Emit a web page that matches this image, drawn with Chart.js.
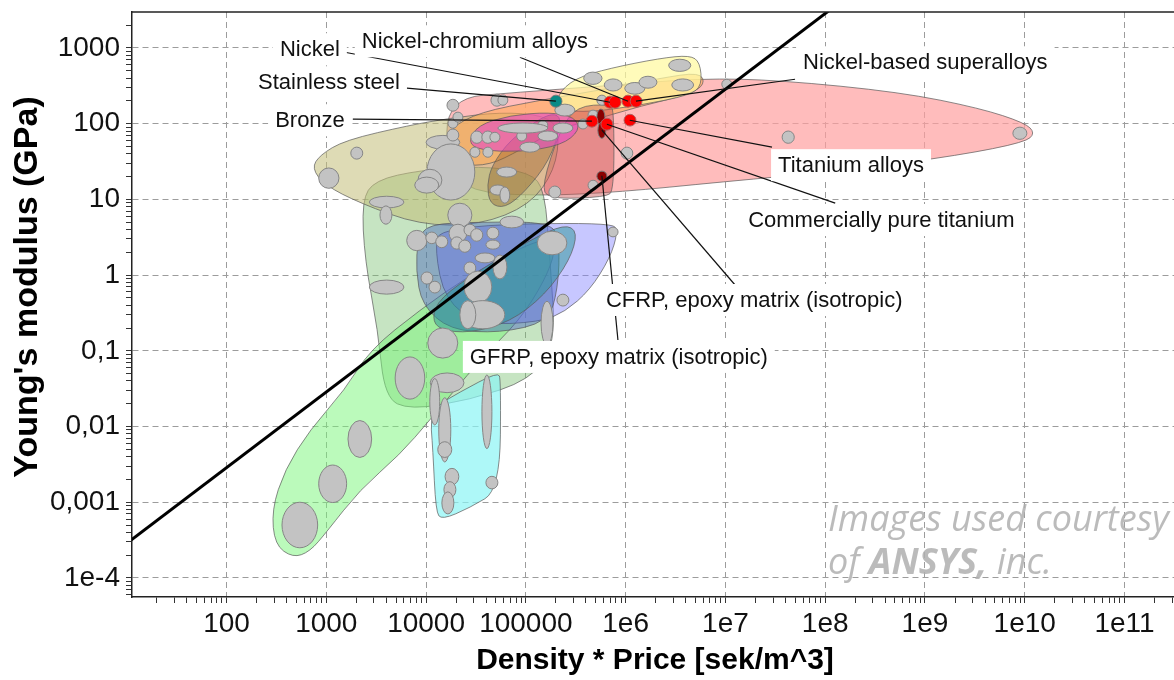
<!DOCTYPE html>
<html>
<head>
<meta charset="utf-8">
<script src="https://cdn.jsdelivr.net/npm/chart.js@4.4.1/dist/chart.umd.min.js"></script>
<style>
  html, body { margin: 0; padding: 0; background: #fff; }
</style>
</head>
<body>
<canvas id="ashby" width="1174" height="680"></canvas>
<script>
// axis ranges: density*price [sek/m^3] vs Young's modulus [GPa]
const xRange = [11.3, 3.13e11];
const yRange = [5.6e-5, 2985];

const xTickValues = [1e2, 1e3, 1e4, 1e5, 1e6, 1e7, 1e8, 1e9, 1e10, 1e11];
const xTickLabels = ["100", "1000", "10000", "100000", "1e6", "1e7", "1e8", "1e9", "1e10", "1e11"];
const yTickValues = [1e-4, 1e-3, 1e-2, 1e-1, 1, 10, 100, 1000];
const yTickLabels = ["1e-4", "0,001", "0,01", "0,1", "1", "10", "100", "1000"];

// material family envelopes, [density*price, modulus]
const envPink = [[16170, 217], [87100, 261], [552100, 312], [5.56e6, 398], [3.52e7, 375], [5.62e8, 261], [3.57e9, 160], [1.01e10, 102], [1.27e10, 75], [1.01e10, 57], [2.25e9, 38.4], [1.77e8, 24.3], [8.81e6, 16.9], [877000, 12.5], [138400, 11.1], [27480, 12.5], [16170, 28.3]];
const envSage = [[2270, 9.8], [3069, 17.9], [8670, 24.3], [34590, 27.5], [109900, 22.9], [155200, 13.2], [174200, 1.58], [200000, 0.119], [109900, 0.0412], [27480, 0.0224], [6887, 0.0166], [3864, 0.0239], [3289, 0.188], [2432, 1.58]];
const envBeige = [[716, 25.8], [861, 38.4], [1535, 60.5], [6887, 95.5], [17330, 118], [54950, 142], [155200, 129], [219300, 82], [195400, 24.3], [109900, 8.41], [34590, 4.58], [8670, 4.58], [2168, 8.93], [966, 15.4]];
const envGreen = [[462, 1.85e-4], [305, 2.74e-4], [284, 7.94e-4], [384, 2.69e-3], [684, 0.00904], [1535, 0.0304], [2735, 0.1026], [8670, 0.347], [27480, 1.0], [87100, 2.28], [166300, 3.09], [200000, 2.14], [155200, 0.861], [87100, 0.255], [34590, 0.0757], [10920, 0.0122], [5458, 0.00424], [2168, 0.00146], [1012, 4.08e-4], [684, 2.22e-4]];
const envCyan = [[10920, 0.0166], [21830, 0.0286], [52480, 0.0525], [56230, 0.0412], [54950, 0.00146], [27480, 8.45e-4], [14390, 5.86e-4], [12530, 7.48e-4], [11700, 0.00491]];
const envLavender = [[13740, 4.44], [729500, 5.02], [837500, 3.7], [696600, 1.68], [438500, 0.635], [246000, 0.326], [138400, 0.24], [34590, 0.219], [15420, 0.469], [12250, 2.14]];
const envBlue = [[8279, 2.9], [10420, 4.72], [34590, 5.02], [174200, 5.02], [219300, 2.9], [209400, 0.635], [166300, 0.24], [54950, 0.172], [17330, 0.188], [9078, 0.404], [7907, 1.17]];
const envTeal = [[11430, 0.271], [13740, 0.498], [34590, 1.17], [109900, 2.9], [246000, 4.72], [331900, 3.7], [276100, 1.58], [155200, 0.546], [69180, 0.24], [27480, 0.172], [13740, 0.188]];
const envYellow = [[204600, 238], [309700, 398], [696600, 540], [2.208e6, 731], [4.416e6, 801], [5.56e6, 647], [5.82e6, 322], [4.416e6, 238], [1.393e6, 175], [438500, 142], [219300, 151]];
const envOrange = [[15780, 44.7], [17330, 87.3], [34590, 142], [138400, 204], [552100, 277], [2.208e6, 398], [5.56e6, 478], [6.24e6, 333], [4.416e6, 245], [1.393e6, 170], [552100, 118], [219300, 87.3], [87100, 44.7], [43650, 28.3], [21830, 28.3]];
const envSalmon = [[324300, 170], [696600, 181], [763800, 142], [763800, 13.2], [634000, 10.7], [166300, 10.1], [144900, 15.4], [219300, 82]];
const envBrown = [[40740, 15.4], [45710, 28.3], [69180, 60.5], [138400, 118], [200000, 138], [229600, 105], [174200, 33], [97700, 12.5], [61660, 7.67], [43650, 8.67]];
const envMagenta = [[26240, 57], [33040, 95.5], [69180, 129], [174200, 142], [309700, 122], [348300, 82], [229600, 52], [87100, 42], [34590, 44.7]];

// individual materials: [x low, x high, y low, y high]
const materials = [
  [360, 820, 2.5e-4, 1.0e-3], [840, 1600, 9.9e-4, 3.1e-3], [1650, 2850, 3.9e-3, 1.2e-2],
  [4900, 9700, 0.023, 0.083], [11000, 24000, 0.028, 0.051], [10900, 13700, 0.0105, 0.043],
  [13400, 17700, 0.0034, 0.024], [13100, 18100, 0.0039, 0.0063], [15500, 21300, 0.0017, 0.0028],
  [15100, 19900, 0.00115, 0.00187], [14400, 19000, 0.0007, 0.00137], [36300, 45700, 0.0051, 0.048],
  [39800, 52500, 0.0015, 0.0022], [10400, 20800, 0.08, 0.2], [2700, 6000, 7.7, 11],
  [3450, 4550, 4.7, 8.2], [16500, 28800, 4.3, 8.9], [55000, 95000, 4.2, 6.0],
  [6400, 10200, 2.1, 3.9], [9950, 13100, 2.6, 3.7], [12500, 16500, 2.3, 3.3],
  [17000, 25600, 2.7, 4.7], [24000, 31500, 3.3, 4.7], [28000, 37000, 2.8, 4.1],
  [17700, 23400, 2.2, 3.2], [21300, 28100, 2.0, 2.9], [40700, 53700, 3.0, 4.3],
  [39800, 55000, 2.2, 2.9], [130000, 258000, 1.85, 3.8], [31000, 49000, 1.45, 1.96],
  [46800, 64600, 0.89, 1.84], [24000, 31500, 1.03, 1.49], [24000, 45600, 0.43, 1.13],
  [2700, 6000, 0.56, 0.86], [8900, 11700, 0.76, 1.1], [10700, 14000, 0.58, 0.83],
  [22300, 61500, 0.195, 0.46], [21800, 31500, 0.195, 0.46], [142000, 187000, 0.12, 0.45],
  [205000, 270000, 0.39, 0.56], [665000, 840000, 3.2, 4.3], [840, 1340, 14, 26],
  [1760, 2320, 34, 49], [10000, 21800, 46, 70], [10200, 30800, 9.8, 54],
  [8300, 14400, 12.9, 25], [7700, 13400, 12.1, 19.7], [16200, 21300, 59, 85],
  [16600, 20800, 87, 118], [16200, 21300, 146, 210], [28100, 37100, 55, 80],
  [36200, 47800, 55, 80], [27500, 34600, 36, 49], [37100, 46700, 36, 49],
  [51000, 81000, 19.7, 26.7], [43600, 63000, 11.4, 15.5], [55000, 69000, 8.9, 14.6],
  [2.7e6, 4.5e6, 490, 710], [380000, 580000, 330, 480], [610000, 920000, 270, 390],
  [980000, 1.56e6, 245, 350], [1.36e6, 2.06e6, 294, 423], [2.9e6, 4.8e6, 270, 390],
  [44700, 58900, 170, 245], [52500, 66000, 175, 240], [18600, 23400, 105, 142],
  [195000, 310000, 126, 181], [420000, 530000, 111, 151], [515000, 650000, 175, 238],
  [333000, 419000, 85, 115], [900000, 1.18e6, 34, 49], [170000, 224000, 10.4, 15],
  [420000, 530000, 13.2, 17.9], [43600, 55000, 57, 77], [81000, 102000, 59, 80],
  [132000, 166000, 82, 111], [132000, 209000, 59, 80], [52500, 166000, 75, 102],
  [87000, 138000, 42, 57], [187000, 296000, 75, 102], [3.7e7, 4.9e7, 55, 80],
  [7.6e9, 1.05e10, 62, 90], [9.2e6, 1.16e7, 285, 386],
];

// highlighted materials
const redMaterials = [
  [607000, 800000, 160, 231], [680000, 900000, 160, 231], [920000, 1.21e6, 165, 238],
  [1.11e6, 1.46e6, 165, 238], [400000, 527000, 90, 129], [565000, 745000, 82, 118],
  [964000, 1.27e6, 93, 133],
];
const darkRedMaterials = [[515000, 620000, 95, 156], [527000, 634000, 64, 105], [515000, 650000, 17.4, 23.6]];
const tealMaterials = [[174000, 230000, 165, 238]];

// selection line E / (rho*C) = const
const guideLine = [{ x: 1, y: 2.85e-5 }, { x: 1e9, y: 28500 }];

// labels with leader lines: label anchor, line start, line end
const notes = [
  { text: "Nickel", at: [1368, 961], align: "right", from: [1535, 877], to: [696600, 192] },
  { text: "Nickel-chromium alloys", at: [30830, 1225], align: "center", from: [87100, 753], to: [1.057e6, 198] },
  { text: "Stainless steel", at: [5458, 352], align: "right", from: [6412, 294], to: [200000, 198] },
  { text: "Bronze", at: [1535, 111], align: "right", from: [1846, 115], to: [459000, 108] },
  { text: "Nickel-based superalloys", at: [6.0e7, 647], align: "left", from: [4.99e7, 386], to: [1.27e6, 198] },
  { text: "Titanium alloys", at: [3.37e7, 28.3], align: "left", from: [2.93e7, 49], to: [1.1e6, 111] },
  { text: "Commercially pure titanium", at: [1.69e7, 5.34], align: "left", from: [1.26e8, 8.93], to: [649000, 98.4] },
  { text: "CFRP, epoxy matrix (isotropic)", at: [634000, 0.469], align: "left", from: [1.25e7, 0.74], to: [578000, 82] },
  { text: "GFRP, epoxy matrix (isotropic)", at: [27480, 0.083], align: "left", from: [837500, 0.139], to: [578000, 20.5] },
];

const envelopes = [
  { pts: envPink, color: "rgba(255,160,160,0.7)" },
  { pts: envSage, color: "rgba(120,190,110,0.42)" },
  { pts: envBeige, color: "rgba(195,190,120,0.55)" },
  { pts: envGreen, color: "rgba(120,245,120,0.5)" },
  { pts: envCyan, color: "rgba(140,245,245,0.7)" },
  { pts: envLavender, color: "rgba(130,130,255,0.45)" },
  { pts: envBlue, color: "rgba(60,90,190,0.42)" },
  { pts: envTeal, color: "rgba(40,150,150,0.5)" },
  { pts: envOrange, color: "rgba(255,170,80,0.55)" },
  { pts: envYellow, color: "rgba(255,250,160,0.72)" },
  { pts: envSalmon, color: "rgba(200,80,80,0.45)" },
  { pts: envBrown, color: "rgba(150,90,30,0.4)" },
  { pts: envMagenta, color: "rgba(230,70,200,0.6)" },
];

const FONT = "'Liberation Sans', Arial, sans-serif";

function logTicks(scale) {
  const ticks = [];
  const lo = Math.floor(Math.log10(scale.min));
  const hi = Math.ceil(Math.log10(scale.max));
  for (let e = lo; e <= hi; e++) {
    for (let m = 1; m <= 9; m++) {
      const v = m * Math.pow(10, e);
      if (v >= scale.min && v <= scale.max) ticks.push({ value: v, major: m === 1 });
    }
  }
  scale.ticks = ticks;
}

function tickText(values, labels) {
  return function (value, index, ticks) {
    if (!ticks[index].major) return "";
    const i = values.findIndex(v => Math.abs(v - value) / v < 1e-6);
    return i < 0 ? "" : labels[i];
  };
}

function smoothShape(ctx, pts) {
  const n = pts.length;
  const mid = (a, b) => [(a[0] + b[0]) / 2, (a[1] + b[1]) / 2];
  const m0 = mid(pts[n - 1], pts[0]);
  ctx.beginPath();
  ctx.moveTo(m0[0], m0[1]);
  for (let i = 0; i < n; i++) {
    const p = pts[i];
    const m = mid(p, pts[(i + 1) % n]);
    ctx.quadraticCurveTo(p[0], p[1], m[0], m[1]);
  }
  ctx.closePath();
}

function drawEllipse(ctx, sx, sy, b, fill, stroke) {
  const x1 = sx.getPixelForValue(b[0]), x2 = sx.getPixelForValue(b[1]);
  const y1 = sy.getPixelForValue(b[2]), y2 = sy.getPixelForValue(b[3]);
  ctx.beginPath();
  ctx.ellipse((x1 + x2) / 2, (y1 + y2) / 2, Math.abs(x2 - x1) / 2, Math.abs(y2 - y1) / 2, 0, 0, Math.PI * 2);
  ctx.fillStyle = fill;
  ctx.fill();
  ctx.strokeStyle = stroke;
  ctx.stroke();
}

const ashbyPlugin = {
  id: "ashby",
  beforeDatasetsDraw(chart) {
    const { ctx, chartArea: ca, scales: { x, y } } = chart;
    ctx.save();
    ctx.beginPath();
    ctx.rect(ca.left, ca.top, ca.right - ca.left, ca.bottom - ca.top);
    ctx.clip();
    ctx.lineWidth = 1;
    envelopes.forEach(env => {
      const pts = env.pts.map(p => [x.getPixelForValue(p[0]), y.getPixelForValue(p[1])]);
      smoothShape(ctx, pts);
      ctx.fillStyle = env.color;
      ctx.fill();
      ctx.strokeStyle = "rgba(90,90,90,0.7)";
      ctx.stroke();
    });
    materials.forEach(b => drawEllipse(ctx, x, y, b, "#c3c3c3", "#858585"));
    tealMaterials.forEach(b => drawEllipse(ctx, x, y, b, "#0a8a86", "#777"));
    darkRedMaterials.forEach(b => drawEllipse(ctx, x, y, b, "#8b0000", "#777"));
    redMaterials.forEach(b => drawEllipse(ctx, x, y, b, "#ff0000", "#b06060"));
    ctx.restore();
  },
  afterDatasetsDraw(chart) {
    const { ctx, scales: { x, y } } = chart;
    ctx.save();
    ctx.strokeStyle = "#111";
    ctx.lineWidth = 1.2;
    notes.forEach(n => {
      ctx.beginPath();
      ctx.moveTo(x.getPixelForValue(n.from[0]), y.getPixelForValue(n.from[1]));
      ctx.lineTo(x.getPixelForValue(n.to[0]), y.getPixelForValue(n.to[1]));
      ctx.stroke();
    });
    ctx.font = "22px " + FONT;
    ctx.textBaseline = "middle";
    notes.forEach(n => {
      const tx = x.getPixelForValue(n.at[0]);
      const ty = y.getPixelForValue(n.at[1]);
      const w = ctx.measureText(n.text).width;
      let left = tx;
      if (n.align === "right") left = tx - w;
      if (n.align === "center") left = tx - w / 2;
      ctx.fillStyle = "#fff";
      ctx.fillRect(left - 7, ty - 16, w + 14, 32);
      ctx.fillStyle = "#111";
      ctx.textAlign = "left";
      ctx.fillText(n.text, left, ty + 1);
    });
    ctx.restore();
  },
  afterDraw(chart) {
    const { ctx, chartArea: ca } = chart;
    ctx.save();
    // frame top edge
    ctx.strokeStyle = "#222";
    ctx.lineWidth = 1.5;
    ctx.beginPath();
    ctx.moveTo(ca.left, ca.top);
    ctx.lineTo(ca.right, ca.top);
    ctx.stroke();

    // axis titles
    ctx.fillStyle = "#000";
    ctx.font = "bold 30px " + FONT;
    ctx.textAlign = "center";
    ctx.textBaseline = "middle";
    ctx.fillText("Density * Price [sek/m^3]", (ca.left + ca.right) / 2 + 2, 661);
    ctx.save();
    ctx.translate(28, 287);
    ctx.rotate(-Math.PI / 2);
    ctx.font = "bold 34px " + FONT;
    ctx.fillText("Young's modulus (GPa)", 0, 0);
    ctx.restore();

    // courtesy mark
    ctx.fillStyle = "rgba(175,175,175,0.85)";
    ctx.textAlign = "left";
    ctx.textBaseline = "alphabetic";
    const wx = ca.right - 346;
    ctx.font = "italic 36px 'Open Sans', sans-serif";
    ctx.fillText("Images used courtesy", wx, ca.bottom - 66);
    let cx = wx;
    ctx.fillText("of ", cx, ca.bottom - 23);
    cx += ctx.measureText("of ").width;
    ctx.font = "italic bold 36px 'Open Sans', sans-serif";
    ctx.fillText("ANSYS,", cx, ca.bottom - 23);
    cx += ctx.measureText("ANSYS,").width;
    ctx.font = "italic 36px 'Open Sans', sans-serif";
    ctx.fillText(" inc.", cx, ca.bottom - 23);
    ctx.restore();
  },
};

new Chart(document.getElementById("ashby"), {
  type: "scatter",
  data: {
    datasets: [
      {
        data: guideLine,
        showLine: true,
        borderColor: "#000",
        borderWidth: 3,
        pointRadius: 0,
      },
    ],
  },
  options: {
    responsive: false,
    animation: false,
    layout: { padding: { top: 12, right: 0, left: 0, bottom: 0 } },
    scales: {
      x: {
        type: "logarithmic",
        min: xRange[0],
        max: xRange[1],
        afterBuildTicks: logTicks,
        afterFit: s => { s.height = 83; s.paddingLeft = 0; s.paddingRight = 0; },
        grid: {
          color: c => (c.tick && c.tick.major ? "#9c9c9c" : "rgba(0,0,0,0)"),
          tickColor: "#333",
          tickLength: 6,
          lineWidth: 1,
          tickBorderDash: [],
        },
        border: { color: "#222", width: 1.5, dash: [6, 4] },
        ticks: {
          autoSkip: false,
          maxRotation: 0,
          padding: 4,
          color: "#111",
          font: { family: FONT, size: 28 },
          callback: tickText(xTickValues, xTickLabels),
        },
      },
      y: {
        type: "logarithmic",
        min: yRange[0],
        max: yRange[1],
        afterBuildTicks: logTicks,
        afterFit: s => { s.width = 132; s.paddingTop = 0; s.paddingBottom = 0; },
        grid: {
          color: c => (c.tick && c.tick.major ? "#9c9c9c" : "rgba(0,0,0,0)"),
          tickColor: "#333",
          tickLength: 6,
          lineWidth: 1,
          tickBorderDash: [],
        },
        border: { color: "#222", width: 1.5, dash: [6, 4] },
        ticks: {
          autoSkip: false,
          padding: 6,
          color: "#111",
          font: { family: FONT, size: 28 },
          callback: tickText(yTickValues, yTickLabels),
        },
      },
    },
    plugins: {
      legend: { display: false },
      tooltip: { enabled: false },
    },
  },
  plugins: [ashbyPlugin],
});
</script>
</body>
</html>
